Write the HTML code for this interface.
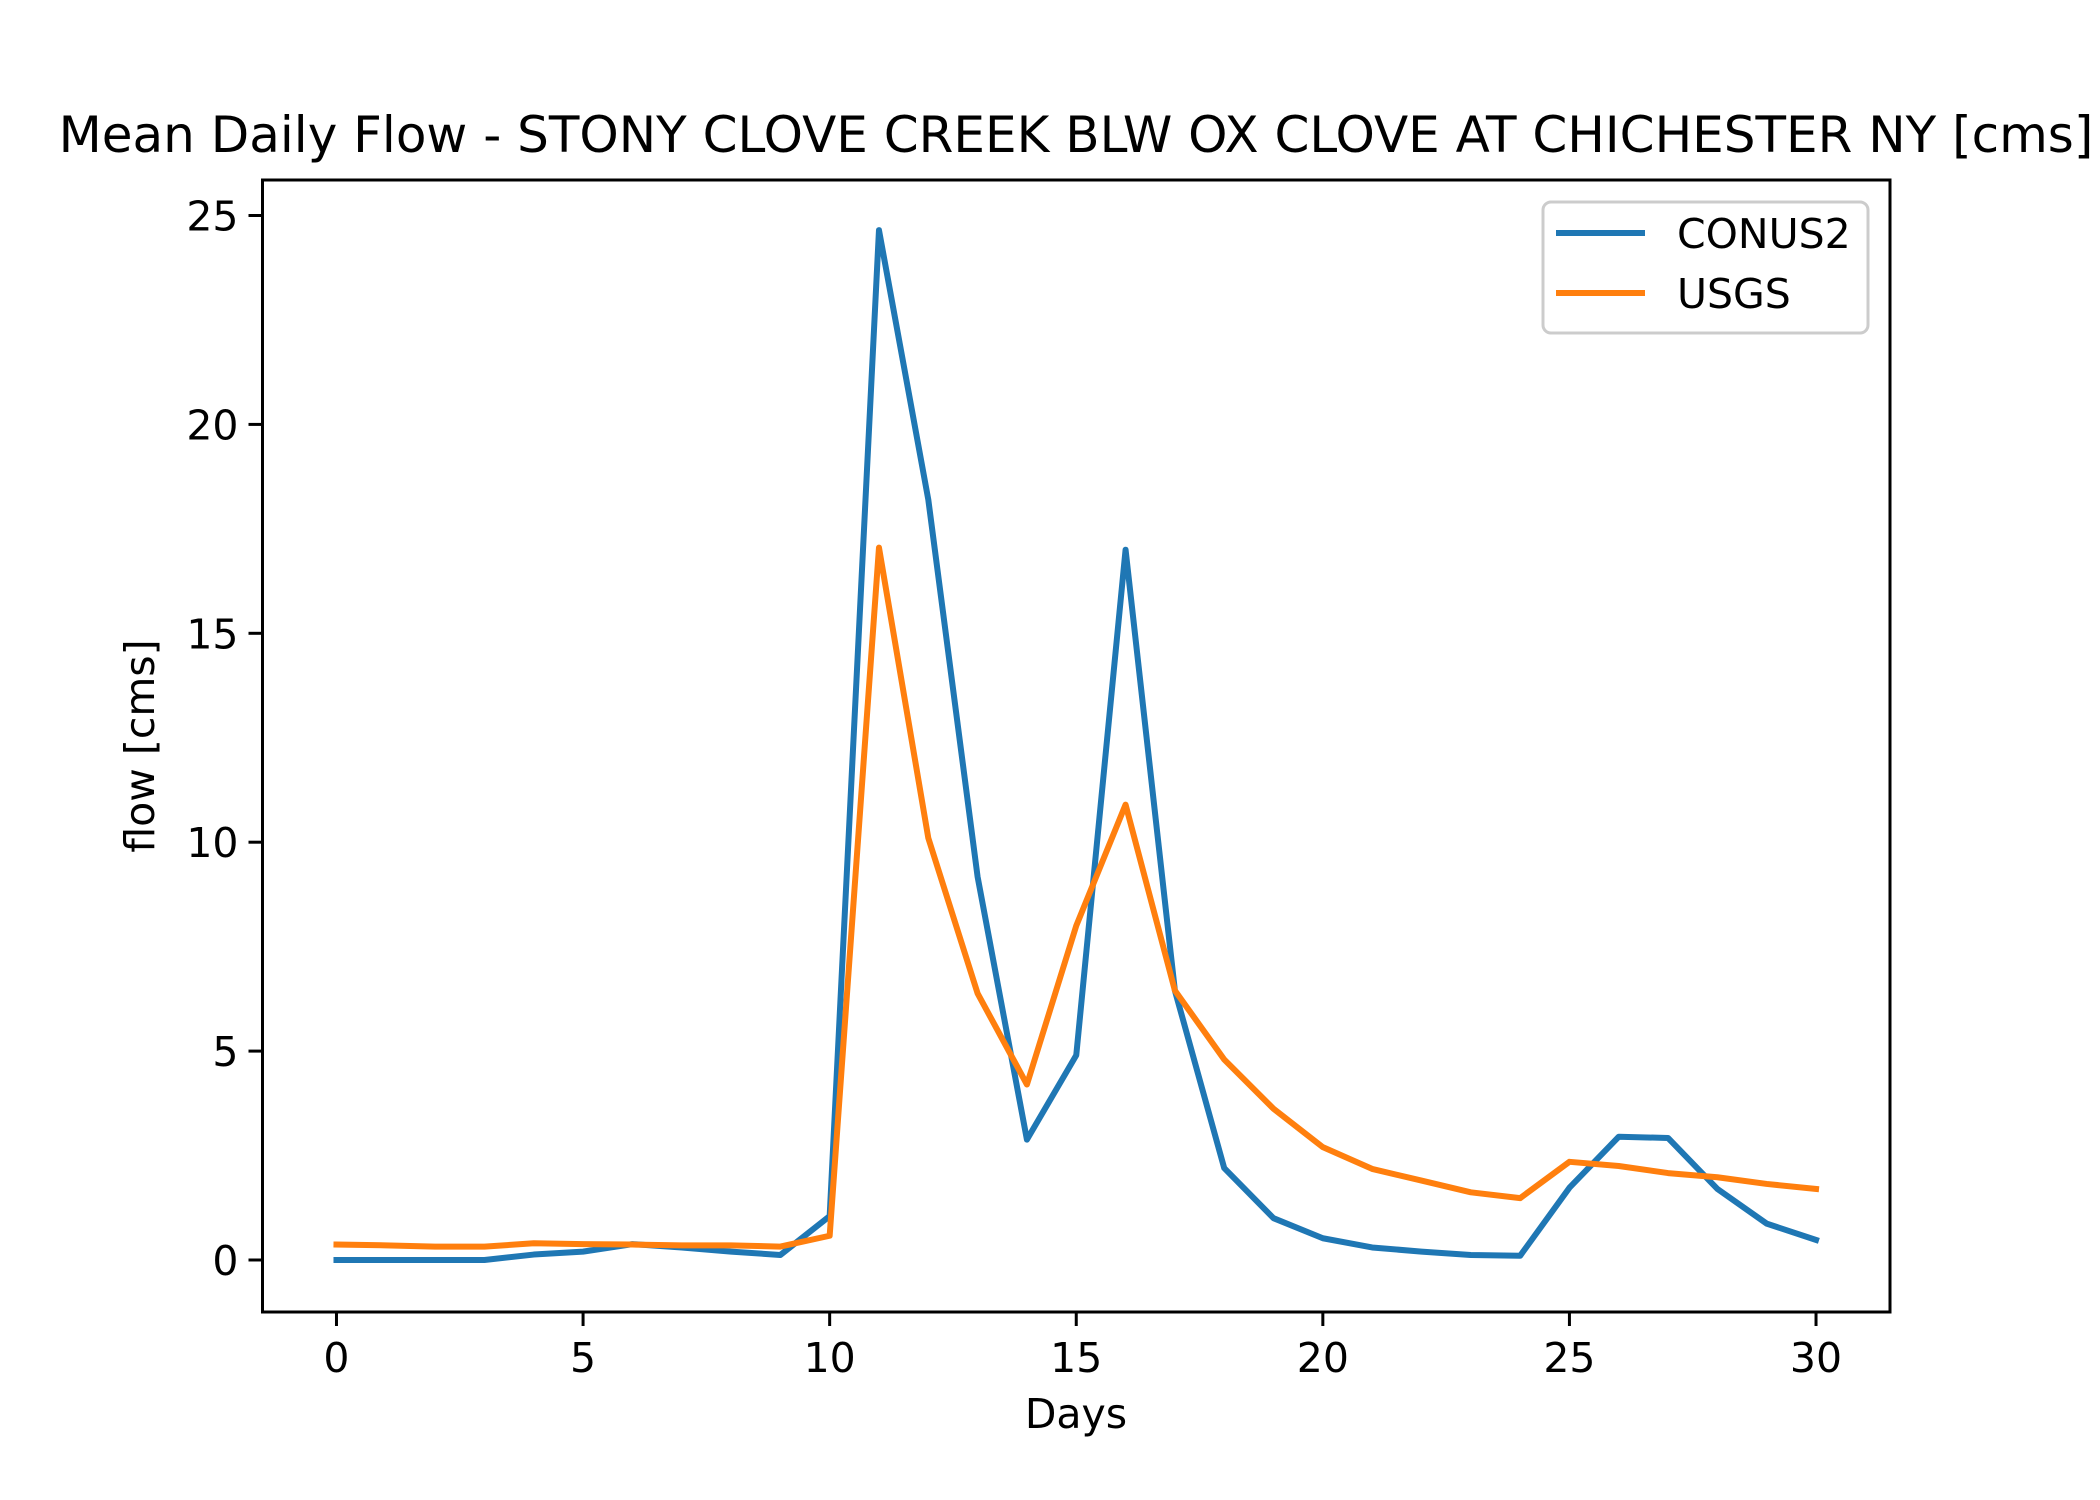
<!DOCTYPE html>
<html><head><meta charset="utf-8"><style>body{margin:0;background:#fff}svg{display:block}text{font-family:"DejaVu Sans","Liberation Sans",sans-serif;fill:#000}</style></head>
<body>
<svg id="chart" width="2100" height="1500" xmlns="http://www.w3.org/2000/svg">
<rect width="2100" height="1500" fill="#fff"/>
<text x="1076" y="152" font-size="50" text-anchor="middle">Mean Daily Flow - STONY CLOVE CREEK BLW OX CLOVE AT CHICHESTER NY [cms]</text>
<g id="plot"></g>
<rect x="262.5" y="180" width="1627.5" height="1132" fill="none" stroke="#000" stroke-width="3"/>
<text x="1076" y="1428" font-size="41" text-anchor="middle">Days</text>
<text transform="translate(154,746) rotate(-90)" font-size="41" text-anchor="middle">flow [cms]</text>
<g>
<rect x="1543" y="202" width="325" height="131" rx="8" fill="#fff" fill-opacity="0.8" stroke="#ccc" stroke-width="3"/>
<line x1="1556" y1="233" x2="1645" y2="233" stroke="#1f77b4" stroke-width="6"/>
<text x="1677" y="248" font-size="41">CONUS2</text>
<line x1="1556" y1="293" x2="1645" y2="293" stroke="#ff7f0e" stroke-width="6"/>
<text x="1677" y="308" font-size="41">USGS</text>
</g>
</svg>
<script>
const days=[0,1,2,3,4,5,6,7,8,9,10,11,12,13,14,15,16,17,18,19,20,21,22,23,24,25,26,27,28,29,30];
const conus2=[0,0,0,0,0.13,0.2,0.38,0.3,0.2,0.12,1.05,24.65,18.2,9.17,2.88,4.9,17.0,6.45,2.2,1.0,0.52,0.3,0.2,0.12,0.1,1.73,2.95,2.92,1.7,0.87,0.48];
const usgs=[0.37,0.35,0.32,0.32,0.4,0.38,0.37,0.35,0.35,0.32,0.58,17.05,10.1,6.38,4.2,8.0,10.9,6.45,4.8,3.62,2.7,2.18,1.9,1.62,1.48,2.35,2.25,2.08,1.98,1.82,1.7];
const xTicks=[0,5,10,15,20,25,30];
const yTicks=[0,5,10,15,20,25];
const L=262.5,R=1890,T=180,B=1312,xmin=-1.5,xmax=31.5,ymin=-1.245,ymax=25.85;
const sx=v=>L+(v-xmin)/(xmax-xmin)*(R-L);
const sy=v=>B-(v-ymin)/(ymax-ymin)*(B-T);
const NS='http://www.w3.org/2000/svg';
const g=document.getElementById('plot');
function mk(t,a){const e=document.createElementNS(NS,t);for(const k in a)e.setAttribute(k,a[k]);g.appendChild(e);return e;}
xTicks.forEach(v=>{
 const l=mk('line',{x1:sx(v),x2:sx(v),y1:B,y2:B+14,stroke:'#000','stroke-width':3});
 
 
 const t=mk('text',{x:sx(v),y:B+60,'font-size':41,'text-anchor':'middle'});t.textContent=v;
 
 
});
yTicks.forEach(v=>{
 const l=mk('line',{x1:L-14,x2:L,y1:sy(v),y2:sy(v),stroke:'#000','stroke-width':3});
 
 
 const t=mk('text',{x:L-24,y:sy(v)+15,'font-size':41,'text-anchor':'end'});t.textContent=v;
 
 
});
function line(vals,color,name){
 const p=mk('polyline',{points:days.map((d,i)=>sx(d)+','+sy(vals[i])).join(' '),fill:'none',stroke:color,'stroke-width':6,'stroke-linejoin':'round','stroke-linecap':'square'});
 
 
}
line(conus2,'#1f77b4','conus2-line');
line(usgs,'#ff7f0e','usgs-line');
</script>
</body></html>
